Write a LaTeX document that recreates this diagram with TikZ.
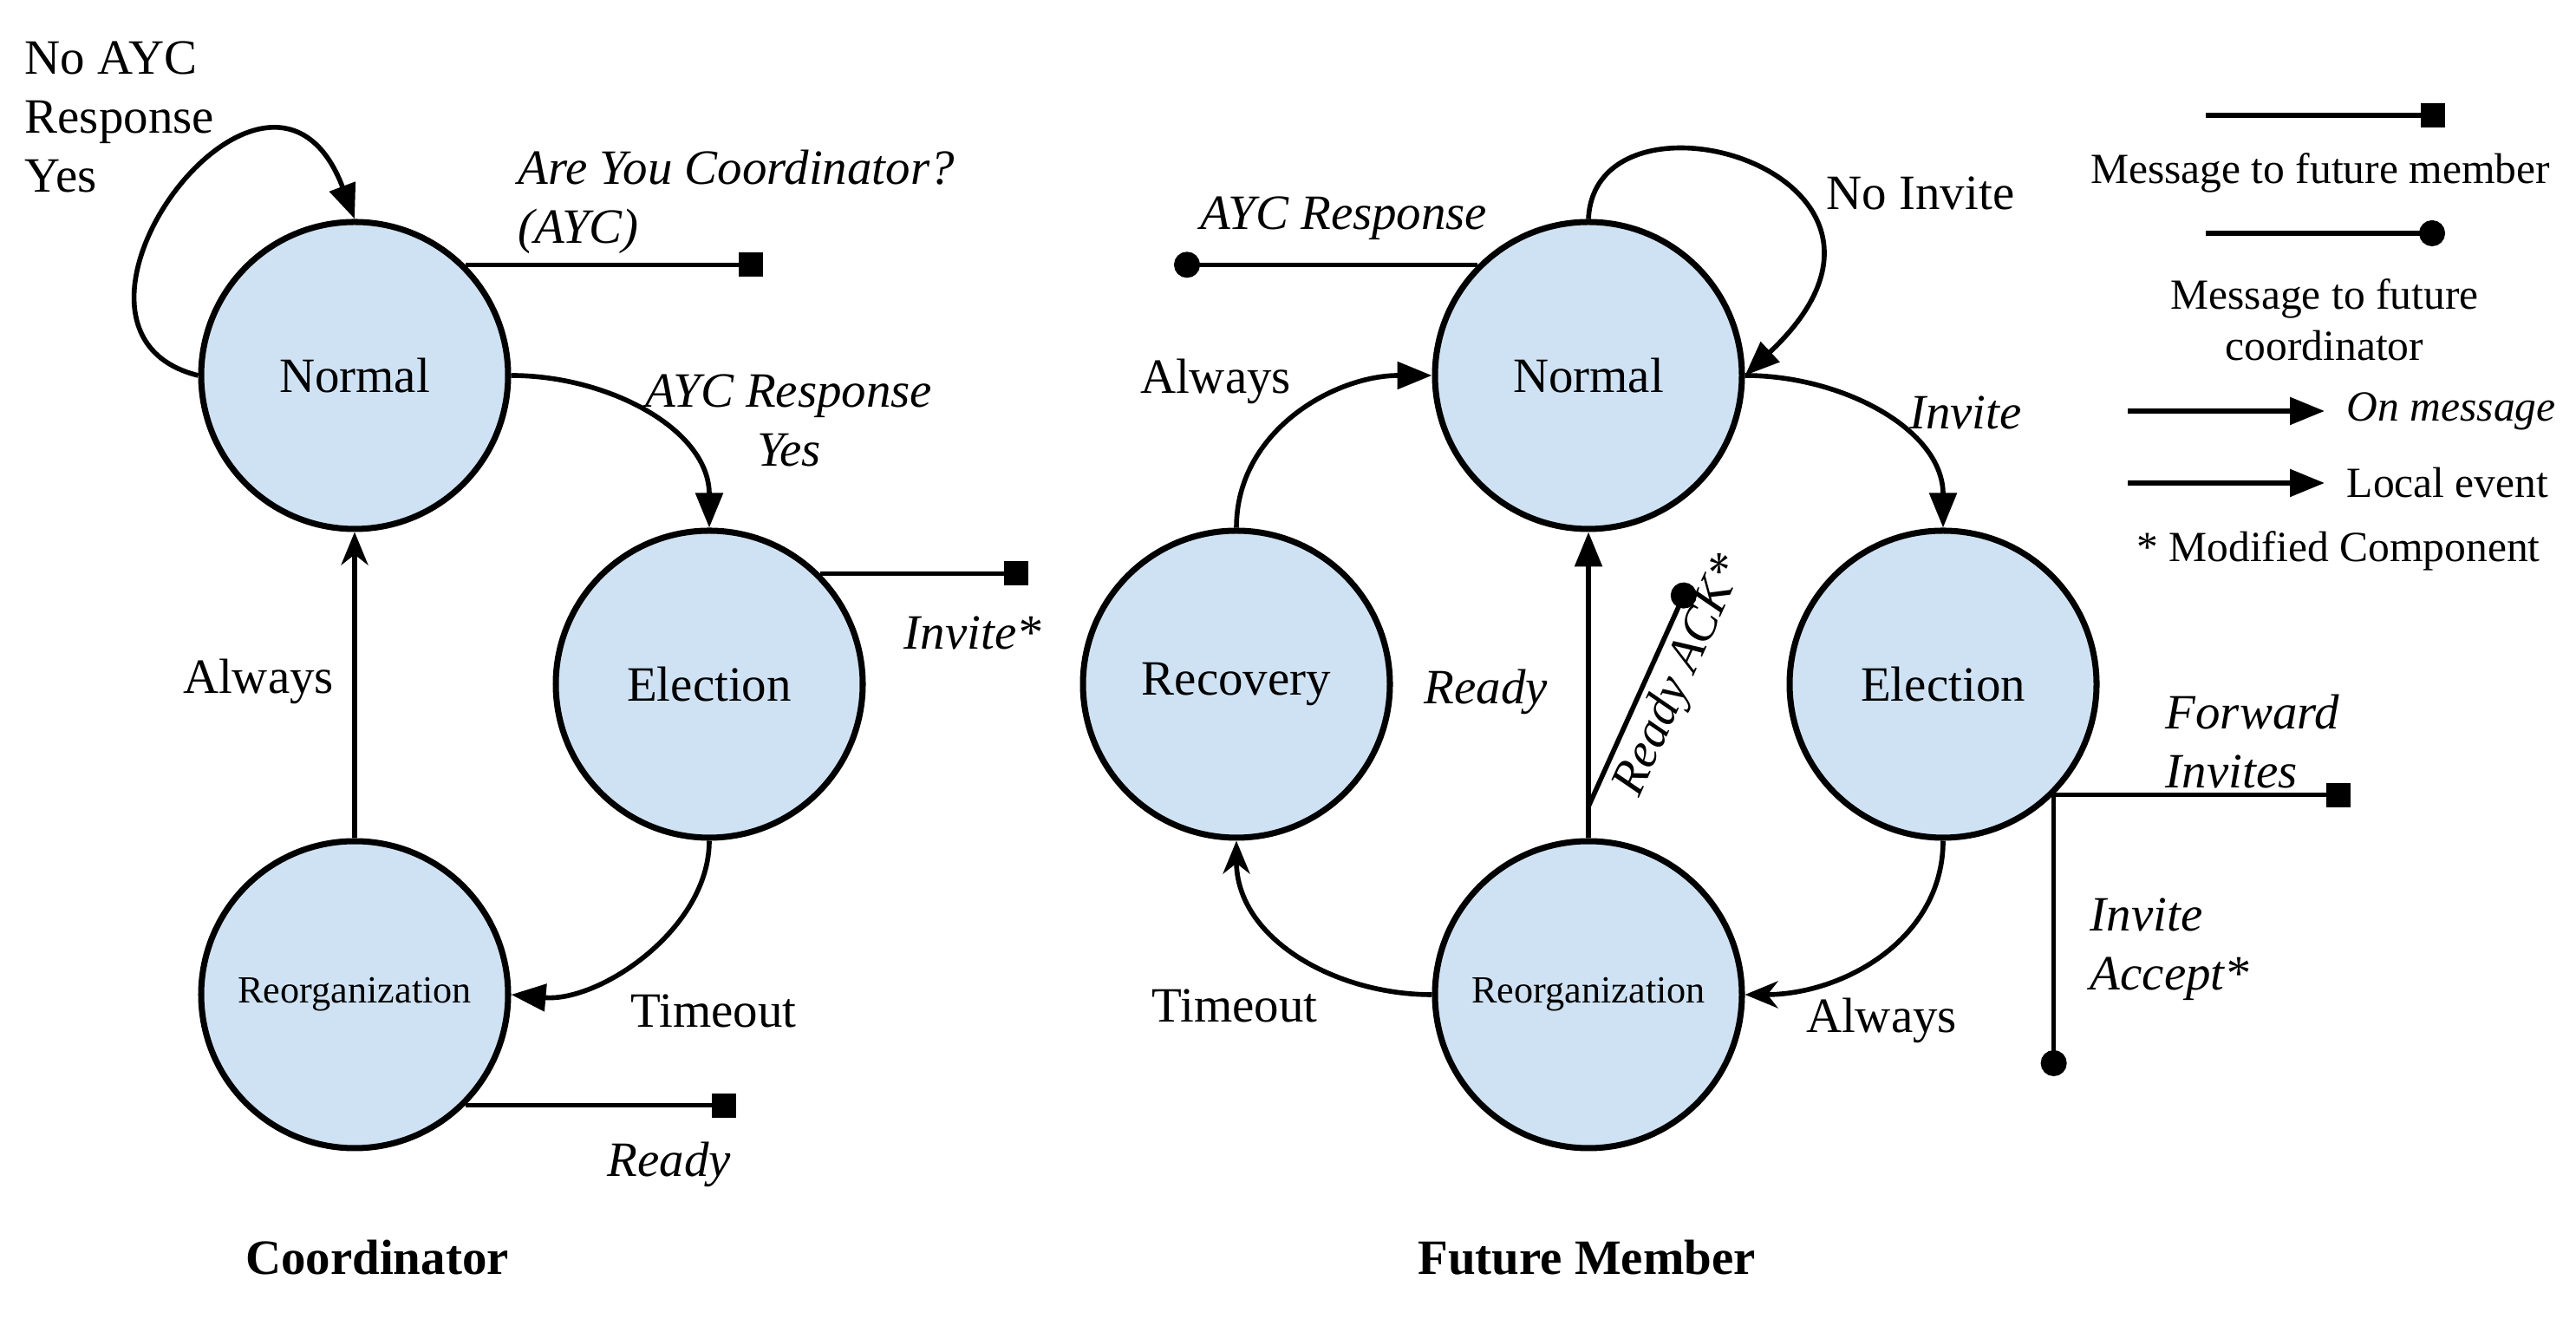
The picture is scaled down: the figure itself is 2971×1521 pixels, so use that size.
\documentclass[tikz,border=0pt]{standalone}
\usepackage{fontspec}
\setmainfont{Liberation Serif}
\usetikzlibrary{arrows.meta}
\definecolor{statefill}{RGB}{207,226,243}
\newcommand\mainsize{\fontsize{16.2}{19.4}\selectfont}
\newcommand\legsize{\fontsize{14.1}{16.8}\selectfont}
\newcommand\reorgsize{\fontsize{12.6}{15}\selectfont}
\begin{document}
\begin{tikzpicture}[x=0.1mm, y=0.1mm, line join=round, font=\mainsize,
 state/.style={circle, draw, line width=2pt, fill=statefill, minimum size=35.4mm, inner sep=0pt},
 lbl/.style={inner sep=0pt, align=left},
 ilbl/.style={lbl, font=\mainsize\itshape},
 wire/.style={line width=1.6pt},
 tomember/.style={wire, -{Square[length=2.8mm, width=2.8mm]}},
 tocoord/.style={wire, -{Circle[length=3mm]}},
 onmsg/.style={wire, -{Triangle[length=4mm, width=3.1mm]}},
 localev/.style={wire, -{Stealth[length=3.8mm, width=3.1mm, inset=1.2mm]}}]
 \useasboundingbox (0,0) rectangle (2971,1521);
 % coordinator
 \node[state] (n1) at (409,1088) {Normal};
 \node[state] (e1) at (818,732) {Election};
 \node[state, font=\reorgsize] (r1) at (409,374) {Reorganization};
 \coordinate (aycsq) at (880,1213);
 \coordinate (invsq) at (1186,857);
 \coordinate (rdysq) at (849,245);
 \draw[onmsg] (n1.west) .. controls (20,1140) and (310,1530) .. (n1.north);
 \draw[onmsg] (n1.east) to[out=0,in=90] (e1.north);
 \draw[onmsg] (e1.south) to[out=-90,in=-5,looseness=0.9] (r1.east);
 \draw[localev] (r1) -- (n1);
 \draw[tomember] (n1.45) -- (n1.45 -| aycsq);
 \draw[tomember] (e1.45) -- (e1.45 -| invsq);
 \draw[tomember] (r1.-45) -- (r1.-45 -| rdysq);
 \node[lbl, anchor=west] (noayc) at (28,1386) {No AYC\\Response\\Yes};
 \node[ilbl, anchor=west] (aycq) at (597,1288) {Are You Coordinator?\\(AYC)};
 \node[ilbl, align=center] (aycyes) at (910,1036) {AYC Response\\Yes};
 \node[ilbl] (invst) at (1122,791) {Invite*};
 \node[lbl] (alw1) at (298,735) {Always};
 \node[lbl] (tmo1) at (823,355) {Timeout};
 \node[ilbl] (rdy1) at (772,178) {Ready};
 \node[lbl, font=\mainsize\bfseries] (coordcap) at (435,71) {Coordinator};
 % future member
 \node[state] (n2) at (1832,1088) {Normal};
 \node[state] (c2) at (1426,732) {Recovery};
 \node[state] (e2) at (2241,732) {Election};
 \node[state, font=\reorgsize] (r2) at (1832,374) {Reorganization};
 \coordinate (ayrdot) at (1354,1214);
 \coordinate (ackjoin) at (1832,591);
 \coordinate (ackdot) at (1948,848);
 \coordinate (fwdsq) at (2711,604);
 \coordinate (accdot) at (2366,280);
 \draw[onmsg] (n2.north) .. controls (1840,1440) and (2260,1320) .. (n2.east);
 \draw[onmsg] (n2.east) to[out=0,in=90] (e2.north);
 \draw[localev] (e2.south) to[out=-90,in=0] (r2.east);
 \draw[localev] (r2.west) to[out=180,in=-90] (c2.south);
 \draw[onmsg] (c2.north) to[out=90,in=180] (n2.west);
 \draw[onmsg] (r2) -- (n2);
 \draw[tocoord] (ackjoin) -- node[ilbl, sloped, below=2pt, pos=0.64] (rdyack) {Ready ACK*} (ackdot);
 \draw[tocoord] (n2.135) -- (n2.135 -| ayrdot);
 \draw[tomember] (e2.-45) -- (e2.-45 -| fwdsq);
 \draw[tocoord] (e2.-45) -- (e2.-45 |- accdot);
 \node[ilbl] (aycresp) at (1550,1269) {AYC Response};
 \node[lbl] (noinv) at (2215,1298) {No Invite};
 \node[lbl] (alw2) at (1402,1081) {Always};
 \node[ilbl] (inv2) at (2267,1045) {Invite};
 \node[ilbl] (rdy2) at (1714,723) {Ready};
 \node[ilbl, anchor=west] (fwd) at (2497,666) {Forward\\Invites};
 \node[ilbl, anchor=west] (acc) at (2410,426) {Invite\\Accept*};
 \node[lbl] (tmo2) at (1424,361) {Timeout};
 \node[lbl] (alw3) at (2170,344) {Always};
 \node[lbl, font=\mainsize\bfseries] (fmcap) at (1830,71) {Future Member};
 % legend
 \coordinate (lgm1) at (2544,1388); \coordinate (lgm2) at (2820,1388);
 \coordinate (lgc1) at (2544,1252); \coordinate (lgc2) at (2820,1252);
 \draw[tomember] (lgm1) -- (lgm2);
 \node[lbl, font=\legsize] (lgmem) at (2676,1322) {Message to future member};
 \draw[tocoord] (lgc1) -- (lgc2);
 \node[lbl, font=\legsize, align=center] (lgcrd) at (2681,1152) {Message to future\\coordinator};
 \foreach \y/\txt [count=\i] in {1047/{\itshape On message}, 964/Local event} {
  \coordinate (lga\i) at (2454,\y);
  \coordinate (lgb\i) at (2681,\y);
  \draw[onmsg] (lga\i) -- (lgb\i);
  \node[lbl, font=\legsize, anchor=west] (lgt\i) at (2706,\y) {\txt};
 }
 \node[lbl, font=\legsize] (lgmod) at (2697,886) {* Modified Component};
\end{tikzpicture}
\end{document}
